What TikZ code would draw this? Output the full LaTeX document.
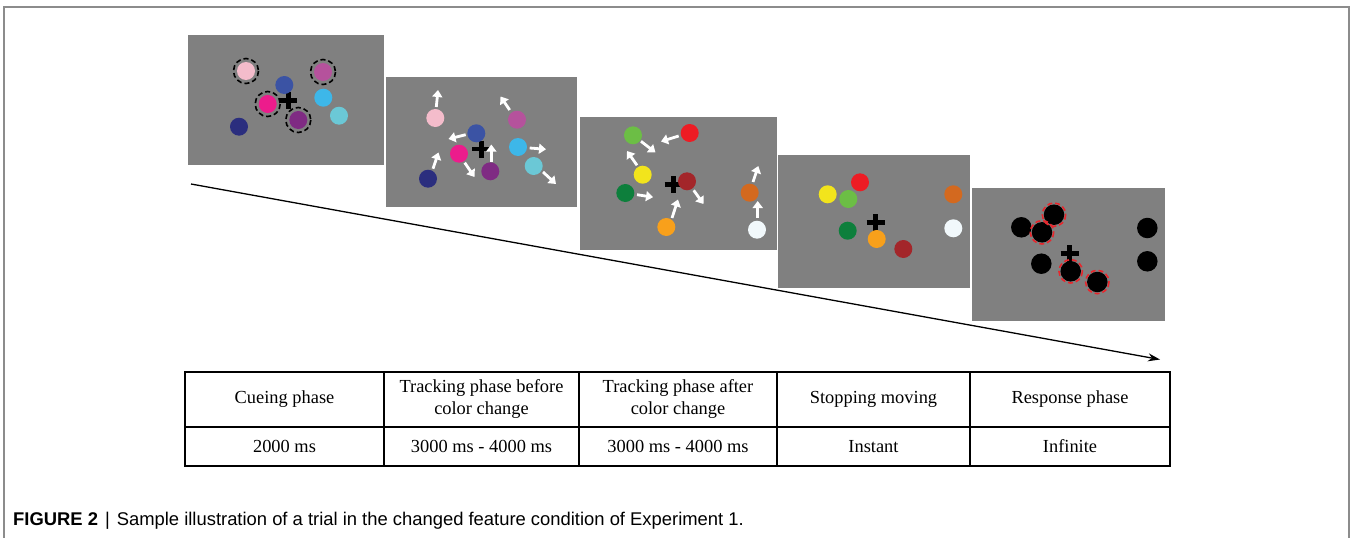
\documentclass[tikz,border=0pt]{standalone}
\usepackage{fontspec}
\setmainfont{Liberation Serif}
\newfontfamily\capfont{Liberation Sans}
\usepackage{xcolor}
\usepackage{tikz}
\usetikzlibrary{arrows.meta,calc}
\definecolor{scrgray}{HTML}{808080}
\definecolor{framegray}{HTML}{8C8C8C}
\definecolor{pinkL}{HTML}{F4BCCB}
\definecolor{mauve}{HTML}{B5529C}
\definecolor{blueM}{HTML}{3B53A4}
\definecolor{magentaB}{HTML}{EC1C8C}
\definecolor{cyanB}{HTML}{3DB7E9}
\definecolor{cyanL}{HTML}{6BC8D6}
\definecolor{purpleD}{HTML}{7F2B83}
\definecolor{navyD}{HTML}{2B2E7E}
\definecolor{greenL}{HTML}{6CBE45}
\definecolor{redB}{HTML}{ED1C24}
\definecolor{yellowB}{HTML}{F2E41C}
\definecolor{greenD}{HTML}{0D7F3C}
\definecolor{redD}{HTML}{A3262A}
\definecolor{orangeB}{HTML}{F8A01B}
\definecolor{orangeD}{HTML}{D3691F}
\definecolor{whiteB}{HTML}{F1F8FB}
\definecolor{probered}{HTML}{E8262C}

\begin{document}
\begin{tikzpicture}[x=1pt,y=-1pt,
  dot/.style={circle,inner sep=0pt,minimum size=18pt},
  bigdot/.style={circle,fill=black,inner sep=0pt,minimum size=20.5pt},
  cue/.style={draw=black,dash pattern=on 5pt off 3pt,line width=1.6pt},
  probe/.style={draw=probered,dash pattern=on 5pt off 3pt,line width=1.6pt},
  mv/.style={-{Triangle[length=7pt,width=10pt]},draw=white,line width=2.8pt},
  fix/.style={line width=4.8pt},
  timeline/.style={-{Stealth[length=12pt,width=8pt]},line width=1.3pt},
  tbl/.style={line width=1.3pt},
  cell/.style={font=\fontsize{18.4}{22}\selectfont,align=center}
]
\useasboundingbox (0,0) rectangle (1352,538);

% Frame
\draw[framegray,line width=1.5pt] (4,545) -- (4,7) -- (1349,7) -- (1349,545);

% Screens
\fill[scrgray] (188,35) rectangle (384,165);
\fill[scrgray] (386,77) rectangle (577,207);
\fill[scrgray] (580,117) rectangle (777,250);
\fill[scrgray] (778,155) rectangle (970,288);
\fill[scrgray] (972,188) rectangle (1165,321);

% Fixation crosses
\foreach \cx/\cy in {288.3/100.8,481.3/149,673.7/184.7,875.7/222.7,1069.7/253.5}
  \draw[fix] (\cx-9,\cy) -- (\cx+9,\cy) (\cx,\cy-8.5) -- (\cx,\cy+8.5);

% Cueing phase
\node[dot,fill=pinkL]    (a1) at (246,71)      {};
\node[dot,fill=mauve]    (a2) at (323,72)      {};
\node[dot,fill=blueM]    (a3) at (284.3,85)    {};
\node[dot,fill=magentaB] (a4) at (267.7,104)   {};
\node[dot,fill=cyanB]    (a5) at (323.3,97.7)  {};
\node[dot,fill=cyanL]    (a6) at (339,115.7)   {};
\node[dot,fill=purpleD]  (a7) at (298.3,120)   {};
\node[dot,fill=navyD]    (a8) at (239,126.7)   {};
\foreach \t in {a1,a2,a4,a7}
  \draw[cue] (\t) circle (12.5);

% Tracking before change
\node[dot,fill=pinkL]    (b1) at (435.3,118)   {};
\node[dot,fill=mauve]    (b2) at (517,119.7)   {};
\node[dot,fill=blueM]    (b3) at (476.3,133.3) {};
\node[dot,fill=magentaB] (b4) at (459,153.7)   {};
\node[dot,fill=purpleD]  (b5) at (490.3,171.3) {};
\node[dot,fill=cyanB]    (b6) at (518,147)     {};
\node[dot,fill=cyanL]    (b7) at (533.7,166)   {};
\node[dot,fill=navyD]    (b8) at (428,178.7)   {};
\draw[mv] (436.3,107) -- (438,90);
\draw[mv] (509.7,110) -- (500.5,96.5);
\draw[mv] (465.7,134.7) -- (448.5,139);
\draw[mv] (464.7,162.7) -- (474.5,177);
\draw[mv] (491.3,161.5) -- (491.3,144.5);
\draw[mv] (529.7,148) -- (546,149.3);
\draw[mv] (543,172) -- (556,184);
\draw[mv] (433,168.7) -- (438.5,152.5);

% Tracking after change
\node[dot,fill=greenL]  (c1) at (633,135.3)   {};
\node[dot,fill=redB]    (c2) at (689.7,133)   {};
\node[dot,fill=yellowB] (c3) at (642.7,174.7) {};
\node[dot,fill=greenD]  (c4) at (625.3,193)   {};
\node[dot,fill=redD]    (c5) at (687,181.3)   {};
\node[dot,fill=orangeB] (c6) at (666.3,227)   {};
\node[dot,fill=orangeD] (c7) at (749.7,192.7) {};
\node[dot,fill=whiteB]  (c8) at (757,229.7)   {};
\draw[mv] (641,141.3) -- (655.5,152.5);
\draw[mv] (678.7,136) -- (661,141.5);
\draw[mv] (637,165.3) -- (627,151);
\draw[mv] (637,194.7) -- (653,197.2);
\draw[mv] (693.7,190.3) -- (703.5,204);
\draw[mv] (672,218) -- (678,199.5);
\draw[mv] (753,182) -- (758.3,166);
\draw[mv] (757.7,218) -- (757.7,201);

% Stopping
\node[dot,fill=yellowB] (d1) at (827.7,194.3) {};
\node[dot,fill=redB]    (d2) at (860,182.3)   {};
\node[dot,fill=greenL]  (d3) at (848.3,199)   {};
\node[dot,fill=orangeD] (d4) at (953.3,194.3) {};
\node[dot,fill=greenD]  (d5) at (847.7,230.7) {};
\node[dot,fill=orangeB] (d6) at (876.7,239)   {};
\node[dot,fill=redD]    (d7) at (903.3,249)   {};
\node[dot,fill=whiteB]  (d8) at (953.3,228.3) {};

% Response
\node[bigdot] (e1) at (1021.3,227.3) {};
\node[bigdot] (e2) at (1054,214.7)   {};
\node[bigdot] (e3) at (1042,232.3)   {};
\node[bigdot] (e4) at (1147.3,228)   {};
\node[bigdot] (e5) at (1041.3,263.7) {};
\node[bigdot] (e6) at (1070.7,271.3) {};
\node[bigdot] (e7) at (1097.3,282)   {};
\node[bigdot] (e8) at (1147.3,261.3) {};
\foreach \t in {e2,e3,e6,e7}
  \draw[probe] (\t) circle (11.7);

% Time axis
\coordinate (t0) at (191,184);
\coordinate (t1) at (1160,359.5);
\draw[timeline] (t0) -- (t1);

% Table
\draw[tbl] (185,372) rectangle (1170,466);
\draw[tbl] (185,427) -- (1170,427);
\foreach \x in {384,579,777,970}
  \draw[tbl] (\x,372) -- (\x,466);
\foreach \n/\x/\h/\d in {1/284.5/{Cueing phase}/{2000 ms},
    2/481.5/{Tracking phase before\\color change}/{3000 ms - 4000 ms},
    3/678/{Tracking phase after\\color change}/{3000 ms - 4000 ms},
    4/873.5/{Stopping moving}/{Instant},
    5/1070/{Response phase}/{Infinite}}{
  \node[cell] (h\n) at (\x,399.5) {\h};
  \node[cell] (v\n) at (\x,446.5) {\d};
}

% Caption
\node[anchor=base west,inner sep=0pt,font=\capfont\fontsize{18.4}{22}\selectfont] (cap) at (13,525)
  {\textbf{FIGURE 2}\hspace{7pt}|\hspace{7pt}Sample illustration of a trial in the changed feature condition of Experiment 1.};
\end{tikzpicture}
\end{document}
